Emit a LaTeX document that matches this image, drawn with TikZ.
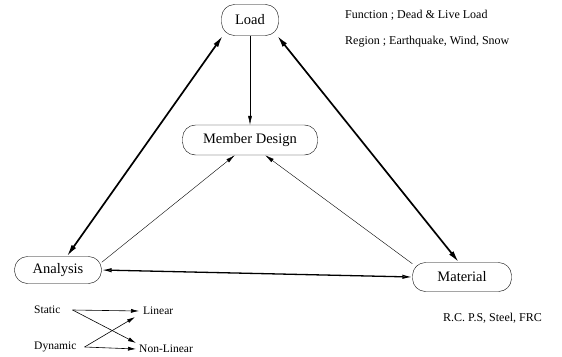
\documentclass[tikz,border=0pt]{standalone}
\usepackage{fontspec}
\setmainfont{Liberation Serif}
\usepackage{tikz}
\usetikzlibrary{arrows.meta}

\begin{document}
\begin{tikzpicture}[
  x=1pt,y=-1pt,
  part/.style={rectangle,draw,rounded corners=13pt,thin,
               text centered,font=\fontsize{14.5}{16}\selectfont},
  note/.style={anchor=west,inner sep=0pt,font=\fontsize{12}{14}\selectfont},
  kind/.style={anchor=west,inner sep=0pt,font=\fontsize{11.5}{13}\selectfont},
  warr/.style={{Latex[length=12pt,width=5.5pt]}-{Latex[length=12pt,width=5.5pt]},line width=1.7pt},
  harr/.style={{Latex[length=10pt,width=4.5pt,open]}-{Latex[length=10pt,width=4.5pt,open]},line width=1.3pt},
  arr/.style={-{Latex[length=9pt,width=4pt]},thin},
  sarr/.style={-{Latex[length=8pt,width=4pt]},semithick}
]
\useasboundingbox (0,0) rectangle (562,356);

\node[part,minimum width=57pt,minimum height=31pt]  (load)     at (250,20)  {Load};
\node[part,minimum width=135pt,minimum height=30pt] (design)   at (250,140) {Member Design};
\node[part,minimum width=87pt,minimum height=27pt]  (analysis) at (58,270)  {Analysis};
\node[part,minimum width=99pt,minimum height=29pt]  (material) at (462,277) {Material};

\node[note] (func)  at (345,15) {Function ; Dead \& Live Load};
\node[note] (reg)   at (345,42) {Region ; Earthquake, Wind, Snow};
\node[note] (mats)  at (443,318) {R.C. P.S, Steel, FRC};

\node[kind] (static)    at (34,310)  {Static};
\node[kind] (dynamic)   at (34,347)  {Dynamic};
\node[kind] (linear)    at (143,311) {Linear};
\node[kind] (nonlinear) at (139,349) {Non-Linear};

\draw[warr](load.210)--(analysis.57);
\draw[warr](load.-30)--(material.102);
\draw[harr](analysis.east)--(material.west);
\draw[arr](load.south)--(design.north);
\draw[arr](analysis.10)--(design.225);
\draw[arr](material.165)--(design.-45);

\draw[sarr]([xshift=12pt]static.east)--([xshift=-4pt]linear.west);
\draw[sarr]([xshift=12pt]static.east)--([xshift=-3pt,yshift=2pt]nonlinear.north west);
\draw[sarr]([xshift=8pt]dynamic.east)--([xshift=-8pt,yshift=-2pt]linear.south west);
\draw[sarr]([xshift=8pt]dynamic.east)--([xshift=-3pt]nonlinear.west);
\end{tikzpicture}
\end{document}
